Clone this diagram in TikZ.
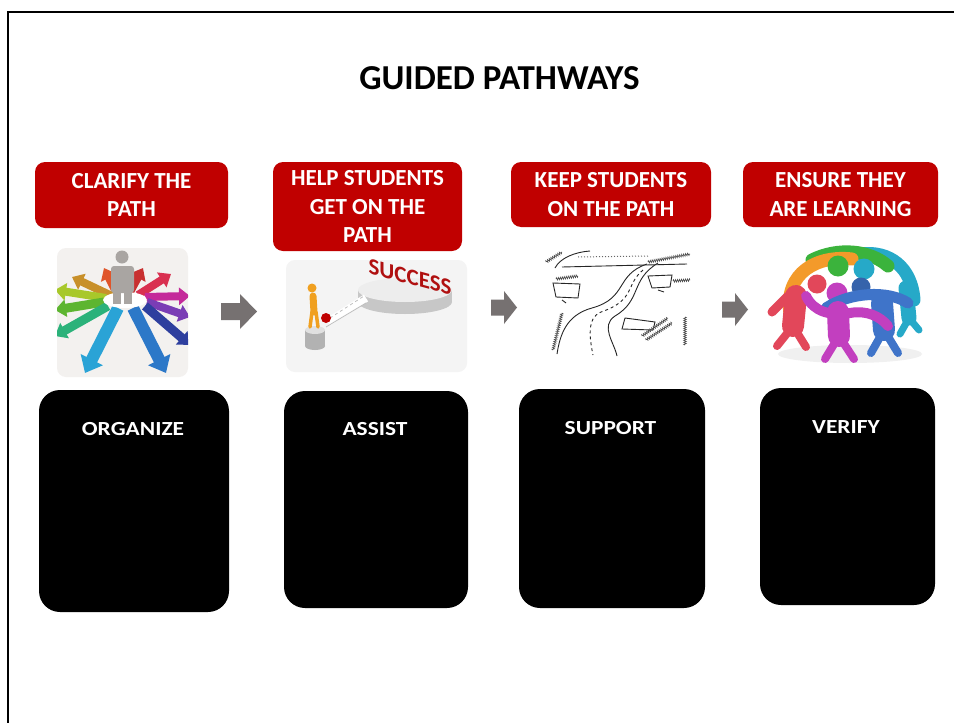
\documentclass[tikz,border=0pt]{standalone}
\usepackage{fontspec}
\usepackage{graphicx}
\setmainfont{Carlito}
\usetikzlibrary{arrows.meta,decorations.pathmorphing}
\definecolor{slidered}{HTML}{C00000}
\definecolor{arrowgray}{HTML}{767171}
\definecolor{imgbg}{HTML}{F3F1EF}
\definecolor{imgbgb}{HTML}{F4F4F4}
\definecolor{figgray}{HTML}{A9A5A2}
\definecolor{cOrange}{HTML}{F39A2A}
\definecolor{cGreen}{HTML}{3BB33C}
\definecolor{cTeal}{HTML}{26A9C8}
\definecolor{cPink}{HTML}{E2475A}
\definecolor{cMagenta}{HTML}{C23FBF}
\definecolor{cBlue}{HTML}{3F74C9}
\definecolor{aOrangeRed}{HTML}{E0552A}
\definecolor{aRed}{HTML}{C83030}
\definecolor{aBrown}{HTML}{C8902A}
\definecolor{aLime}{HTML}{A8C82A}
\definecolor{aGreen}{HTML}{5DB530}
\definecolor{aSea}{HTML}{2BB27A}
\definecolor{aPink}{HTML}{D93050}
\definecolor{aMagenta}{HTML}{C42A9A}
\definecolor{aPurple}{HTML}{7A3DB5}
\definecolor{aNavy}{HTML}{2E3F9E}
\definecolor{aCyan}{HTML}{2AA3D6}
\definecolor{aBlue}{HTML}{2C78C8}
\definecolor{fOrange}{HTML}{F0A020}
\definecolor{succred}{HTML}{B01010}
\tikzset{
  redbox/.style={fill=slidered, rounded corners=10pt, text=white, align=center, inner sep=0pt,
    font=\fontsize{23}{28.5}\selectfont\bfseries},
  blackbox/.style={fill=black, rounded corners=21pt, inner sep=0pt},
  lbl/.style={text=white, inner sep=0pt, font=\fontsize{20}{24}\selectfont\bfseries},
  ray/.style={line width=8pt, -{Triangle[length=11pt,width=17pt]}},
  bigray/.style={line width=12pt, -{Triangle[length=15pt,width=24pt]}},
  blockarrow/.style={fill=arrowgray},
  sketch/.style={line width=0.9pt, black!85},
  scribble/.style={line width=0.6pt, black!70, decorate, decoration={zigzag, segment length=2pt, amplitude=1.3pt}},
  limb/.style={line width=#1, line cap=round},
}
\begin{document}
\begin{tikzpicture}[x=1pt,y=-1pt]
\useasboundingbox (0,0) rectangle (954,723);
\fill[white] (0,0) rectangle (954,723);
% slide border
\draw[line width=2.2pt] (8,723) -- (8,12) -- (954,12);

% title
\node[font=\fontsize{35}{42}\selectfont\bfseries, inner sep=0pt] (title) at (499.5,78) {GUIDED PATHWAYS};

% red heading boxes
\node[redbox, minimum width=193pt, minimum height=66pt] (r1) at (131.5,195) {CLARIFY THE\\PATH};
\node[redbox, minimum width=189pt, minimum height=89pt] (r2) at (367.5,206.5) {HELP STUDENTS\\GET ON THE\\PATH};
\node[redbox, minimum width=200pt, minimum height=65pt] (r3) at (611,194.5) {KEEP STUDENTS\\ON THE PATH};
\node[redbox, minimum width=195pt, minimum height=65pt] (r4) at (840.5,194.5) {ENSURE THEY\\ARE LEARNING};

% black boxes
\node[blackbox, minimum width=190pt, minimum height=222pt] (b1) at (134,501) {};
\node[blackbox, minimum width=184pt, minimum height=217pt] (b2) at (376,499.5) {};
\node[blackbox, minimum width=186pt, minimum height=219pt] (b3) at (612,498.5) {};
\node[blackbox, minimum width=175pt, minimum height=217pt] (b4) at (847.5,496.5) {};
\node[lbl] (l1) at (133,429) {\scalebox{1.17}[1]{ORGANIZE}};
\node[lbl] (l2) at (375,429) {\scalebox{1.17}[1]{ASSIST}};
\node[lbl] (l3) at (610.5,428) {\scalebox{1.17}[1]{SUPPORT}};
\node[lbl] (l4) at (846,427) {\scalebox{1.17}[1]{VERIFY}};

% gray block arrows
\fill[blockarrow] (221,303) -- (240,303) -- (240,294) -- (257,311.5) -- (240,329) -- (240,320) -- (221,320) -- cycle;
\fill[blockarrow] (491,299.5) -- (504,299.5) -- (504,291) -- (517,307.5) -- (504,324) -- (504,315.5) -- (491,315.5) -- cycle;
\fill[blockarrow] (722,301.5) -- (735,301.5) -- (735,293) -- (748,309.5) -- (735,326) -- (735,317.5) -- (722,317.5) -- cycle;

% ---- picture 1: radiating arrows
\fill[imgbg, rounded corners=9pt] (57,248) rectangle (188,377);
\begin{scope}
\clip[rounded corners=9pt] (57,248) rectangle (188,377);
\draw[ray, color=aOrangeRed] (116,292) -- (104,268);
\draw[ray, color=aRed] (130,292) -- (143,268);
\draw[ray, color=aBrown] (112,296) -- (72,277);
\draw[ray, color=aLime] (106,298) -- (55,290);
\draw[ray, line width=9pt, color=aGreen] (104,302) -- (55,310);
\draw[ray, line width=9pt, color=aSea] (108,306) -- (55,336);
\draw[ray, color=aPink] (138,295) -- (171,274);
\draw[ray, color=aMagenta] (145,297) -- (190,296);
\draw[ray, color=aPurple] (147,302) -- (190,317);
\draw[ray, line width=9pt, color=aNavy] (145,306) -- (190,345);
\draw[bigray, color=aCyan] (118,308) -- (85,373);
\draw[bigray, color=aBlue] (133,308) -- (166,373);
\fill[white] (125,300) ellipse [x radius=22, y radius=8];
\fill[figgray] (122,257) circle (6.5);
\fill[figgray, rounded corners=3pt] (111,266) rectangle (134,293);
\fill[figgray] (113,290) rectangle (121,304);
\fill[figgray] (124,290) rectangle (132,304);
\end{scope}

% ---- picture 2: success platform
\fill[imgbgb, rounded corners=9pt] (286,260) rectangle (467,372);
\fill[black!22] (358,290) rectangle (452,302);
\fill[black!22] (405,302) ellipse [x radius=47, y radius=12];
\fill[black!7] (405,290) ellipse [x radius=47, y radius=12];
\node[text=succred, font=\fontsize{23}{26}\selectfont\bfseries, yslant=-0.27, inner sep=0pt] (succ) at (410,277) {SUCCESS};
\draw[line width=8pt, white] (328,322) -- (366,298);
\draw[line width=0.8pt, black!25] (326,327) -- (366,303);
\draw[line width=0.8pt, black!25, dashed] (330,318) -- (364,296);
\fill[black!30] (305,330) rectangle (325,346);
\fill[black!30] (315,346) ellipse [x radius=10, y radius=4];
\fill[black!12] (315,330) ellipse [x radius=10, y radius=4];
\fill[fOrange] (312,288) circle (4.5);
\draw[limb=7pt, fOrange] (313,296) -- (314,312);
\draw[limb=3.5pt, fOrange] (312,312) -- (310,327);
\draw[limb=3.5pt, fOrange] (316,312) -- (318,327);
\fill[red!75!black] (326,318) circle (5);

% ---- picture 3: sketched map
\fill[white, rounded corners=6pt] (543,250) rectangle (693,357);
\draw[sketch] (562,267) -- (687,264);
\draw[sketch] (555,268) .. controls (560,258) and (575,252) .. (590,251);
\draw[black!60, line width=1pt, dotted] (578,257) -- (648,256);
\draw[scribble] (546,262) -- (562,252);
\draw[scribble] (648,262) -- (690,254);
\draw[sketch] (647,264) .. controls (615,275) and (628,298) .. (592,308)
  .. controls (566,315) and (560,335) .. (557,354);
\draw[sketch] (658,263) .. controls (630,280) and (642,300) .. (615,316)
  .. controls (600,326) and (614,342) .. (617,356);
\draw[sketch, dashed] (643,270) .. controls (625,285) and (636,300) .. (601,312)
  .. controls (586,318) and (590,340) .. (593,355);
\draw[sketch] (553,283) -- (580,284) -- (578,298) -- (556,297) -- cycle;
\draw[sketch] (648,276) -- (672,275) -- (670,287) -- (652,288) -- cycle;
\draw[sketch] (625,318) -- (655,322) -- (653,330) -- (622,329) -- cycle;
\draw[scribble] (556,279) -- (578,276);
\draw[scribble] (673,281) -- (690,280);
\draw[scribble] (642,336) -- (668,318);
\draw[scribble] (646,340) -- (672,323);
\draw[scribble] (553,350) -- (562,313);
\draw[scribble] (685,317) -- (685,345);
\draw[sketch] (562,300) -- (566,303);
\draw[sketch] (658,290) -- (664,292);

% ---- picture 4: ring of figures
\fill[black!6] (850,354) ellipse [x radius=72, y radius=9];
\draw[limb=13pt, cTeal] (860,254) .. controls (890,250) and (912,268) .. (914,300);
\draw[limb=15pt, cTeal] (906,288) -- (909,318);
\draw[limb=7pt, cTeal] (909,318) -- (900,334);
\draw[limb=7pt, cTeal] (909,318) -- (919,330);
\draw[limb=13pt, cGreen] (812,260) .. controls (838,247) and (870,250) .. (888,266);
\draw[limb=13pt, cOrange] (790,314) .. controls (784,272) and (818,255) .. (852,259);
\draw[limb=22pt, cPink] (796,296) -- (793,326);
\draw[limb=8pt, cPink] (793,326) -- (777,346);
\draw[limb=8pt, cPink] (793,326) -- (806,347);
\draw[limb=9pt, cPink] (788,296) -- (772,312);
\draw[limb=22pt, cBlue] (882,303) -- (884,330);
\draw[limb=8pt, cBlue] (884,330) -- (871,353);
\draw[limb=8pt, cBlue] (884,330) -- (898,353);
\fill[cPink] (817,284) circle (9.5);
\fill[cGreen] (838,266) circle (10.5);
\fill[cTeal] (864,269) circle (10.5);
\fill[cBlue!85!black] (861,287) circle (9.5);
\fill[cMagenta] (837,293) circle (10.5);
\draw[limb=11pt, cBlue] (826,308) .. controls (850,292) and (888,290) .. (908,303);
\draw[limb=22pt, cMagenta] (838,312) -- (839,336);
\draw[limb=8pt, cMagenta] (839,336) -- (825,359);
\draw[limb=8pt, cMagenta] (839,336) -- (854,359);
\draw[limb=10pt, cMagenta] (806,296) .. controls (814,312) and (830,316) .. (850,313) .. controls (866,310) and (880,316) .. (888,326);
\end{tikzpicture}
\end{document}
